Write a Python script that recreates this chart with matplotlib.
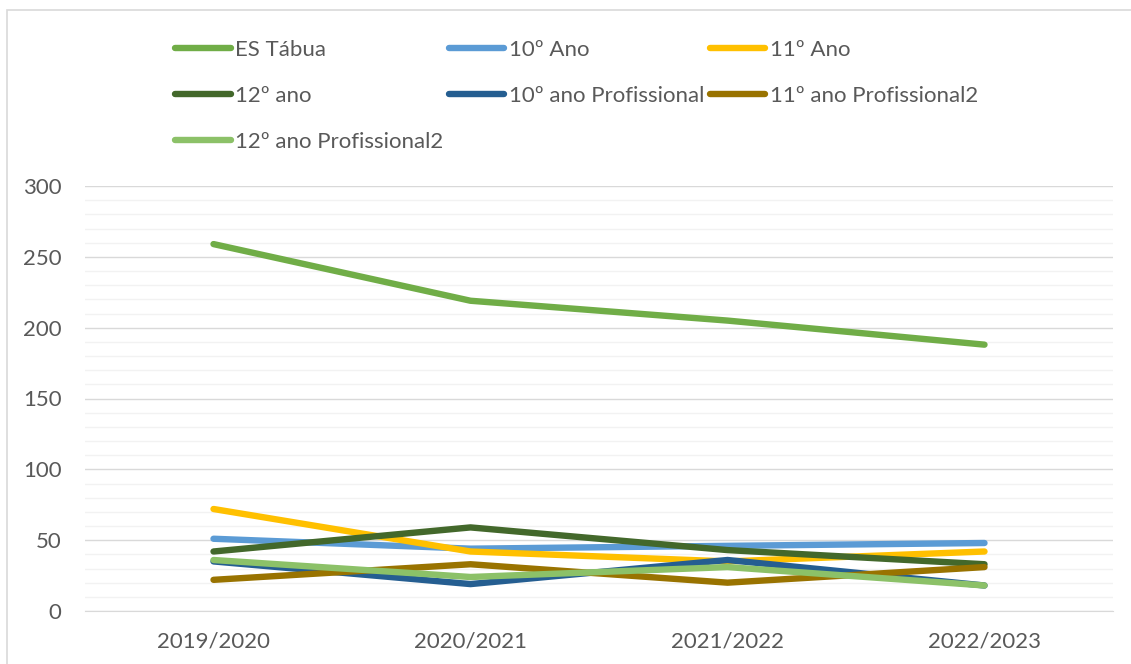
import matplotlib.pyplot as plt
from matplotlib.patches import Rectangle
from matplotlib.ticker import MultipleLocator

# dados
anos = ['2019/2020', '2020/2021', '2021/2022', '2022/2023']
es_tabua = [259, 219, 205, 188]
ano10 = [51, 44, 46, 48]
ano11 = [72, 42, 35, 42]
ano12 = [42, 59, 43, 33]
ano10_prof = [35, 19, 36, 18]
ano11_prof2 = [22, 33, 20, 31]
ano12_prof2 = [36, 24, 31, 18]

series = [
    ('ES Tábua', es_tabua, '#70AD47'),
    ('10º Ano', ano10, '#5B9BD5'),
    ('11º Ano', ano11, '#FFC000'),
    ('12º ano', ano12, '#43682B'),
    ('10º ano Profissional', ano10_prof, '#255E91'),
    ('11º ano Profissional2', ano11_prof2, '#997300'),
    ('12º ano Profissional2', ano12_prof2, '#8CC168'),
]

plt.rcParams['font.family'] = ['Lato', 'DejaVu Sans']
cor_texto = '#595959'

fig = plt.figure(figsize=(11.31, 6.64), dpi=100)
fig.patches.append(Rectangle((7 / 1131, -0.1), 1.2, 1 - 10 / 664 + 0.1,
                             transform=fig.transFigure, fill=False,
                             edgecolor='#D9D9D9', linewidth=1.2))

ax = fig.add_axes([85 / 1131, 1 - 611 / 664, (1113 - 85) / 1131, (611 - 186) / 664])

linhas = {}
for nome, valores, cor in series:
    l, = ax.plot(range(len(anos)), valores, color=cor, linewidth=4.6,
                 solid_capstyle='round', solid_joinstyle='round', label=nome, zorder=3)
    linhas[nome] = l

ax.set_xlim(-0.5, len(anos) - 0.5)
ax.set_ylim(0, 300)
ax.set_xticks(range(len(anos)))
ax.set_xticklabels(anos)
ax.yaxis.set_major_locator(MultipleLocator(50))
ax.yaxis.set_minor_locator(MultipleLocator(10))
ax.grid(which='major', axis='y', color='#D9D9D9', linewidth=1.0, zorder=0)
ax.grid(which='minor', axis='y', color='#F2F2F2', linewidth=1.0, zorder=0)
ax.set_axisbelow(True)
for s in ['top', 'right', 'left']:
    ax.spines[s].set_visible(False)
ax.spines['bottom'].set_color('#D9D9D9')
ax.tick_params(axis='both', which='both', length=0, labelsize=16, colors=cor_texto)
ax.tick_params(axis='y', pad=17)
ax.tick_params(axis='x', pad=15)

# legenda (ordem por colunas para ficar igual ao Excel)
ordem = ['ES Tábua', '12º ano', '12º ano Profissional2',
         '10º Ano', '10º ano Profissional',
         '11º Ano', '11º ano Profissional2']
leg = fig.legend([linhas[n] for n in ordem], ordem, ncol=3, loc='upper left',
                 bbox_to_anchor=(155 / 1131, 1 - 20 / 664), frameon=False,
                 fontsize=16, handlelength=2.5, handletextpad=0.2,
                 columnspacing=0.25, labelspacing=1.17, labelcolor=cor_texto)

fig.savefig('out.png', dpi=100)
